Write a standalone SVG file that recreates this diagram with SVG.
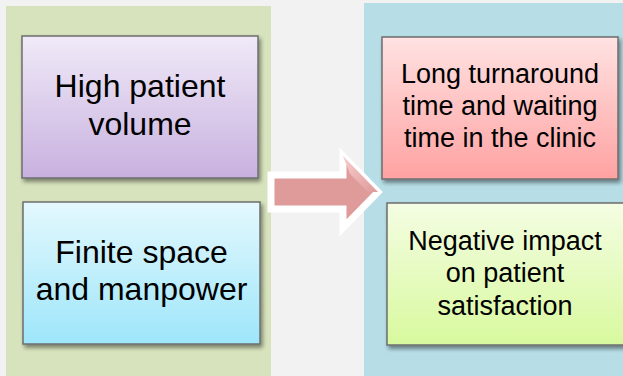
<svg xmlns="http://www.w3.org/2000/svg" width="623" height="376" viewBox="0 0 623 376">
  <defs>
    <linearGradient id="gPurple" x1="0" y1="0" x2="0" y2="1">
      <stop offset="0" stop-color="#f0eaf8"/>
      <stop offset="1" stop-color="#c8b1df"/>
    </linearGradient>
    <linearGradient id="gBlue" x1="0" y1="0" x2="0" y2="1">
      <stop offset="0" stop-color="#e3f8fd"/>
      <stop offset="1" stop-color="#9ee6fb"/>
    </linearGradient>
    <linearGradient id="gPink" x1="0" y1="0" x2="0" y2="1">
      <stop offset="0" stop-color="#ffe2e2"/>
      <stop offset="1" stop-color="#ffa2a2"/>
    </linearGradient>
    <linearGradient id="gGreen" x1="0" y1="0" x2="0" y2="1">
      <stop offset="0" stop-color="#f4fde3"/>
      <stop offset="1" stop-color="#d8f99e"/>
    </linearGradient>
    <linearGradient id="gHead" x1="0" y1="0" x2="1" y2="1">
      <stop offset="0" stop-color="#f7cccc"/>
      <stop offset="1" stop-color="#e09a9a"/>
    </linearGradient>
    <filter id="shadow" x="-10%" y="-10%" width="125%" height="130%">
      <feGaussianBlur in="SourceAlpha" stdDeviation="2"/>
      <feOffset dx="2" dy="3" result="b"/>
      <feComponentTransfer><feFuncA type="linear" slope="0.45"/></feComponentTransfer>
      <feMerge><feMergeNode/><feMergeNode in="SourceGraphic"/></feMerge>
    </filter>
  </defs>
  <style>
    .box { stroke: #6e6e6e; stroke-width: 1.5; filter: url(#shadow); }
    .big { font-family: "Liberation Sans", Arial, sans-serif; font-size: 32px; fill: #000; text-anchor: middle; }
    .mid { font-family: "Liberation Sans", Arial, sans-serif; font-size: 27px; fill: #000; text-anchor: middle; }
  </style>
  <rect x="0" y="0" width="623" height="376" fill="#f2f2f2"/>
  <g id="panel-left">
    <rect x="6" y="6" width="265" height="372" fill="#d7e3bd"/>
  </g>
  <g id="panel-right">
    <rect x="364" y="3" width="262" height="375" fill="#b7dde6"/>
  </g>
  <g id="node-high-volume">
    <rect class="box" x="22" y="36" width="236" height="142" fill="url(#gPurple)"/>
    <text class="big" x="140" y="97">High patient</text>
    <text class="big" x="140" y="135">volume</text>
  </g>
  <g id="node-finite-space">
    <rect class="box" x="23" y="202" width="237" height="142" fill="url(#gBlue)"/>
    <text class="big" x="141.5" y="263">Finite space</text>
    <text class="big" x="141.5" y="300">and manpower</text>
  </g>
  <g id="node-long-turnaround">
    <rect class="box" x="382" y="37" width="236" height="142" fill="url(#gPink)"/>
    <text class="mid" x="500" y="83">Long turnaround</text>
    <text class="mid" x="500" y="115">time and waiting</text>
    <text class="mid" x="500" y="147">time in the clinic</text>
  </g>
  <g id="node-negative-impact">
    <rect class="box" x="387" y="203" width="240" height="142" fill="url(#gGreen)"/>
    <text class="mid" x="505" y="250">Negative impact</text>
    <text class="mid" x="505" y="282">on patient</text>
    <text class="mid" x="505" y="315">satisfaction</text>
  </g>
  <g id="connectors">
    <path d="M271,175 L343,175 L343,156 L378,192 L343,228 L343,209 L271,209 Z" fill="#df9a9a" stroke="#ffffff" stroke-width="7" stroke-linejoin="miter"/>
    <path d="M343,156 L378,192 L368,192 L350,174 Z" fill="url(#gHead)"/>
  </g>
</svg>
